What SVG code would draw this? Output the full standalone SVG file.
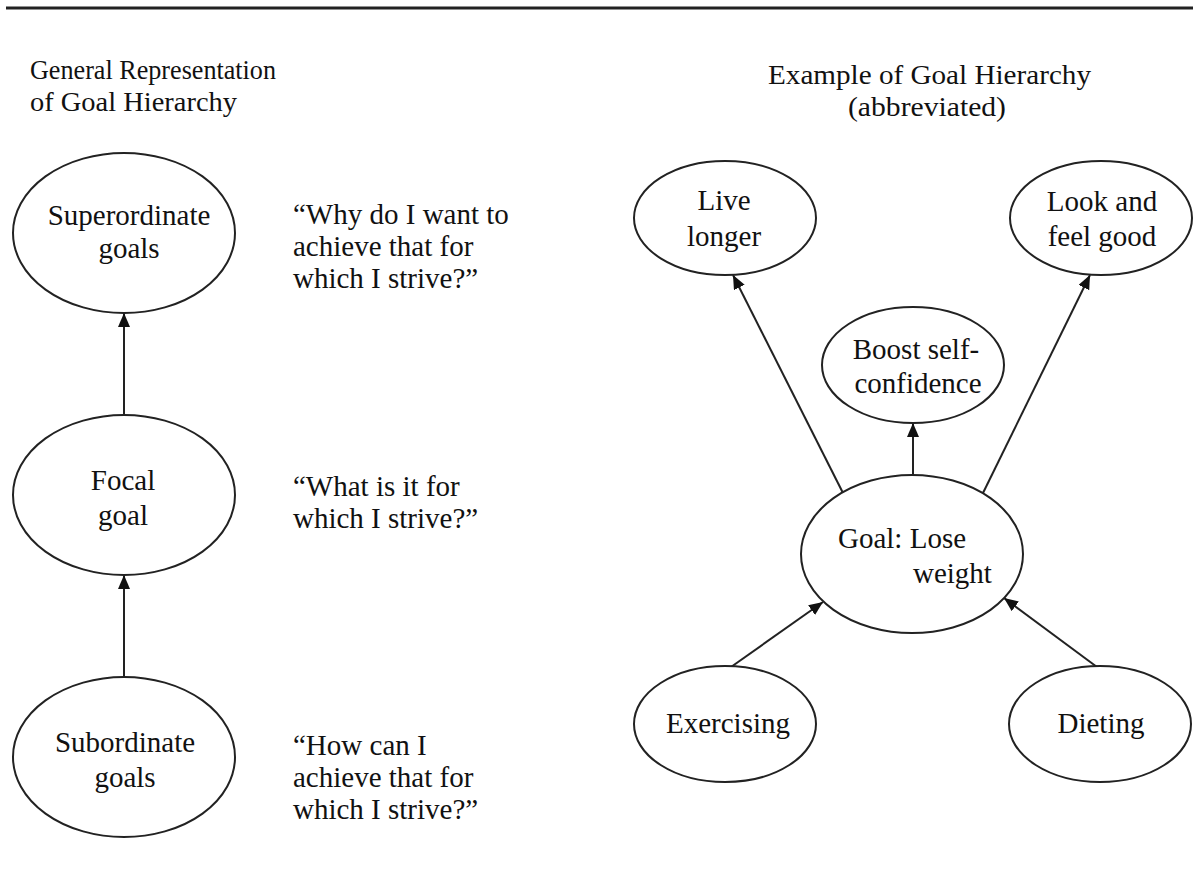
<svg xmlns="http://www.w3.org/2000/svg" width="1193" height="877" viewBox="0 0 1193 877">
<style>
  .node ellipse { fill: #fff; stroke: #222; stroke-width: 2; }
  text { font-family: "Liberation Serif", "Times New Roman", serif; fill: #111; }
  .lbl { font-size: 29px; text-anchor: middle; }
  .q { font-size: 29px; }
  .title { font-size: 27px; }
  .conn line { stroke: #222; stroke-width: 2; marker-end: url(#arr); }
</style>
<defs>
  <marker id="arr" viewBox="0 0 14 12" refX="14" refY="6" markerWidth="14" markerHeight="12" markerUnits="userSpaceOnUse" orient="auto">
    <path d="M0,0 L14,6 L0,12 z" fill="#111"/>
  </marker>
</defs>
<rect width="1193" height="877" fill="#fff"/>
<line x1="6" y1="8" x2="1193" y2="8" stroke="#222" stroke-width="3"/>

<g id="titles">
  <text class="title" x="30" y="79" textLength="246" lengthAdjust="spacingAndGlyphs">General Representation</text>
  <text class="title" x="30" y="111" textLength="207" lengthAdjust="spacingAndGlyphs">of Goal Hierarchy</text>
  <text class="title" x="768" y="84" textLength="323" lengthAdjust="spacingAndGlyphs">Example of Goal Hierarchy</text>
  <text class="title" x="848" y="116" textLength="158" lengthAdjust="spacingAndGlyphs">(abbreviated)</text>
</g>

<g id="quotes">
  <text class="q" x="293" y="224">“Why do I want to</text>
  <text class="q" x="293" y="256">achieve that for</text>
  <text class="q" x="293" y="288">which I strive?”</text>
  <text class="q" x="293" y="496">“What is it for</text>
  <text class="q" x="293" y="528">which I strive?”</text>
  <text class="q" x="293" y="755">“How can I</text>
  <text class="q" x="293" y="787">achieve that for</text>
  <text class="q" x="293" y="819">which I strive?”</text>
</g>

<g class="conn" id="connectors">
  <line x1="124" y1="415" x2="124" y2="313"/>
  <line x1="124" y1="677" x2="124" y2="575"/>
  <line x1="843" y1="493" x2="733" y2="275"/>
  <line x1="983" y1="493" x2="1090" y2="275"/>
  <line x1="913" y1="475" x2="913" y2="423"/>
  <line x1="731" y1="667" x2="823" y2="602"/>
  <line x1="1097" y1="667" x2="1004" y2="598"/>
</g>

<g class="node" id="superordinate">
  <ellipse cx="124" cy="233" rx="111" ry="80"/>
  <text class="lbl" x="129" y="225">Superordinate</text>
  <text class="lbl" x="129" y="258">goals</text>
</g>
<g class="node" id="focal">
  <ellipse cx="124" cy="495" rx="111" ry="80"/>
  <text class="lbl" x="123" y="490">Focal</text>
  <text class="lbl" x="123" y="525">goal</text>
</g>
<g class="node" id="subordinate">
  <ellipse cx="124" cy="757" rx="111" ry="80"/>
  <text class="lbl" x="125" y="752">Subordinate</text>
  <text class="lbl" x="125" y="787">goals</text>
</g>

<g class="node" id="live-longer">
  <ellipse cx="725" cy="218" rx="91" ry="57"/>
  <text class="lbl" x="724" y="210">Live</text>
  <text class="lbl" x="724" y="246">longer</text>
</g>
<g class="node" id="look-feel-good">
  <ellipse cx="1101" cy="218" rx="91" ry="57"/>
  <text class="lbl" x="1102" y="211">Look and</text>
  <text class="lbl" x="1102" y="246">feel good</text>
</g>
<g class="node" id="boost">
  <ellipse cx="913" cy="365" rx="91" ry="58"/>
  <text class="lbl" x="916" y="359">Boost self-</text>
  <text class="lbl" x="918" y="393">confidence</text>
</g>
<g class="node" id="goal">
  <ellipse cx="912" cy="554" rx="111" ry="79"/>
  <text class="q" x="838" y="548">Goal: Lose</text>
  <text class="q" x="913" y="583">weight</text>
</g>
<g class="node" id="exercising">
  <ellipse cx="725" cy="724" rx="91" ry="58"/>
  <text class="lbl" x="728" y="733">Exercising</text>
</g>
<g class="node" id="dieting">
  <ellipse cx="1100" cy="724" rx="91" ry="58"/>
  <text class="lbl" x="1101" y="733">Dieting</text>
</g>
</svg>
